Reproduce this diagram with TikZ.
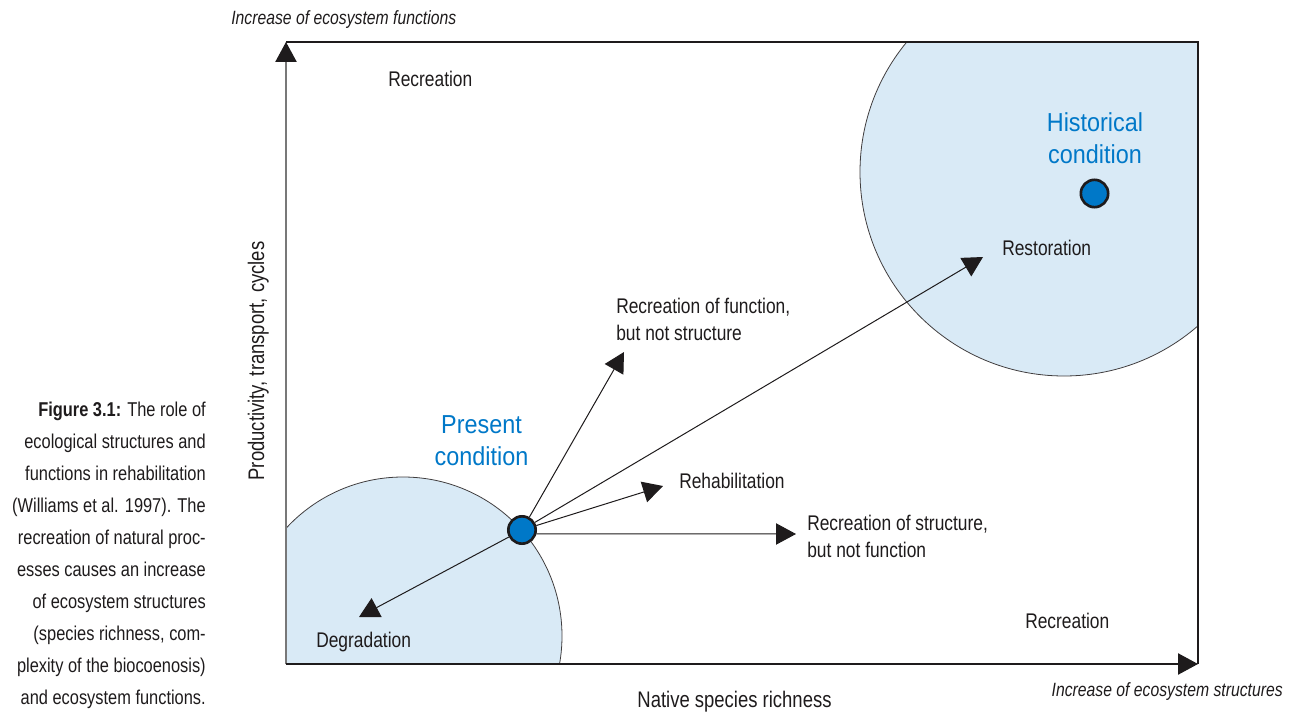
\documentclass[tikz,border=0pt]{standalone}
\usepackage{fontspec}
\setmainfont{Liberation Sans}[FakeStretch=0.82]
\newfontfamily\condfont{Liberation Sans}[FakeStretch=0.9]
\usetikzlibrary{arrows.meta}

\definecolor{ecoblue}{RGB}{0,120,200}
\definecolor{zonefill}{RGB}{217,234,246}
\definecolor{axisgray}{RGB}{120,120,120}
\definecolor{inkgray}{RGB}{30,27,28}

\begin{document}
\begin{tikzpicture}[x=0.75pt,y=-0.75pt,
  tip/.style={-{Triangle[length=15pt,width=16pt,color=inkgray]}},
  conn/.style={tip,draw=inkgray,line width=0.75pt},
  lbl/.style={inner sep=0pt,text=inkgray,font=\fontsize{15.9pt}{20.25pt}\selectfont},
  axlbl/.style={inner sep=0pt,text=inkgray,font=\fontsize{16.9pt}{20pt}\selectfont},
  dirlbl/.style={inner sep=0pt,text=inkgray,font=\fontsize{14.4pt}{17pt}\selectfont\itshape},
  capt/.style={inner sep=0pt,text=inkgray,align=right,font=\fontsize{15pt}{24pt}\selectfont},
  cond/.style={inner sep=0pt,align=center,text=ecoblue,font=\condfont\fontsize{19.5pt}{24pt}\selectfont},
  dot/.style={circle,draw=inkgray,line width=2pt,fill=ecoblue,minimum size=20.5pt,inner sep=0pt},
  zone/.style={draw=inkgray!85,line width=0.6pt,fill=zonefill},
  ]
\useasboundingbox (0,0) rectangle (1293,713);

% condition zones, cut off by the frame
\begin{scope}
  \clip (286,42) rectangle (1198,664);
  \draw[zone] (403,636) circle[radius=119.25pt];
  \draw[zone] (1064,172) circle[radius=153pt];
\end{scope}

% axes and frame
\coordinate (O) at (286,664);
\coordinate (Ytop) at (286,42);
\coordinate (TR) at (1198,42);
\coordinate (Xend) at (1198,664);
\draw[tip,draw=axisgray,line width=1pt] (O) -- (Ytop);
\draw[inkgray,line width=0.9pt] (Ytop) -- (TR) -- (Xend);
\draw[tip,draw=inkgray,line width=0.9pt] (O) -- (Xend);

% conditions
\node[dot] (present) at (522,530) {};
\node[dot] (historic) at (1094.5,193.5) {};

% pathways from the present condition
\coordinate (tDeg) at (359,617);
\coordinate (tFun) at (624,352);
\coordinate (tRes) at (983,257);
\coordinate (tReh) at (663,486);
\coordinate (tStr) at (796,534);
\draw[conn] (present) -- (tDeg);
\draw[conn] (present) -- (tFun);
\draw[conn] (present) -- (tRes);
\draw[conn] (present) -- (tReh);
\draw[conn] (present.-15) -- (tStr);

% labels
\node[lbl,anchor=base west] (recTop) at (388,87) {Recreation};
\node[lbl,anchor=base west] (recBot) at (1025,628) {Recreation};
\node[lbl,anchor=base west] (restor) at (1002,256) {Restoration};
\node[lbl,anchor=base west] (rehab) at (679,488) {Rehabilitation};
\node[lbl,anchor=base west] (degr) at (316,647) {Degradation};
\node[lbl,anchor=north west,align=left] (funlbl) at (616,298) {Recreation of function,\\but not structure};
\node[lbl,anchor=north west,align=left] (strlbl) at (807,515) {Recreation of structure,\\but not function};
\node[cond,anchor=north] (histlbl) at (1095,112) {Historical\\condition};
\node[cond,anchor=north] (preslbl) at (481.5,415) {Present\\condition};

% axis titles
\node[axlbl,anchor=base] (xlab) at (734.5,707) {Native species richness};
\node[axlbl,anchor=base,rotate=90] (ylab) at (264,361) {Productivity, transport, cycles};
\node[dirlbl,anchor=base west] (yfar) at (231,25) {Increase of ecosystem functions};
\node[dirlbl,anchor=base east] (xfar) at (1283,696) {Increase of ecosystem structures};

% caption
\node[capt,anchor=north east] (caption) at (206,402) {\textbf{Figure 3.1:} The role of\\ecological structures and\\functions in rehabilitation\\(Williams et al. 1997). The\\recreation of natural proc-\\esses causes an increase\\of ecosystem structures\\(species richness, com-\\plexity of the biocoenosis)\\and ecosystem functions.};
\end{tikzpicture}
\end{document}
